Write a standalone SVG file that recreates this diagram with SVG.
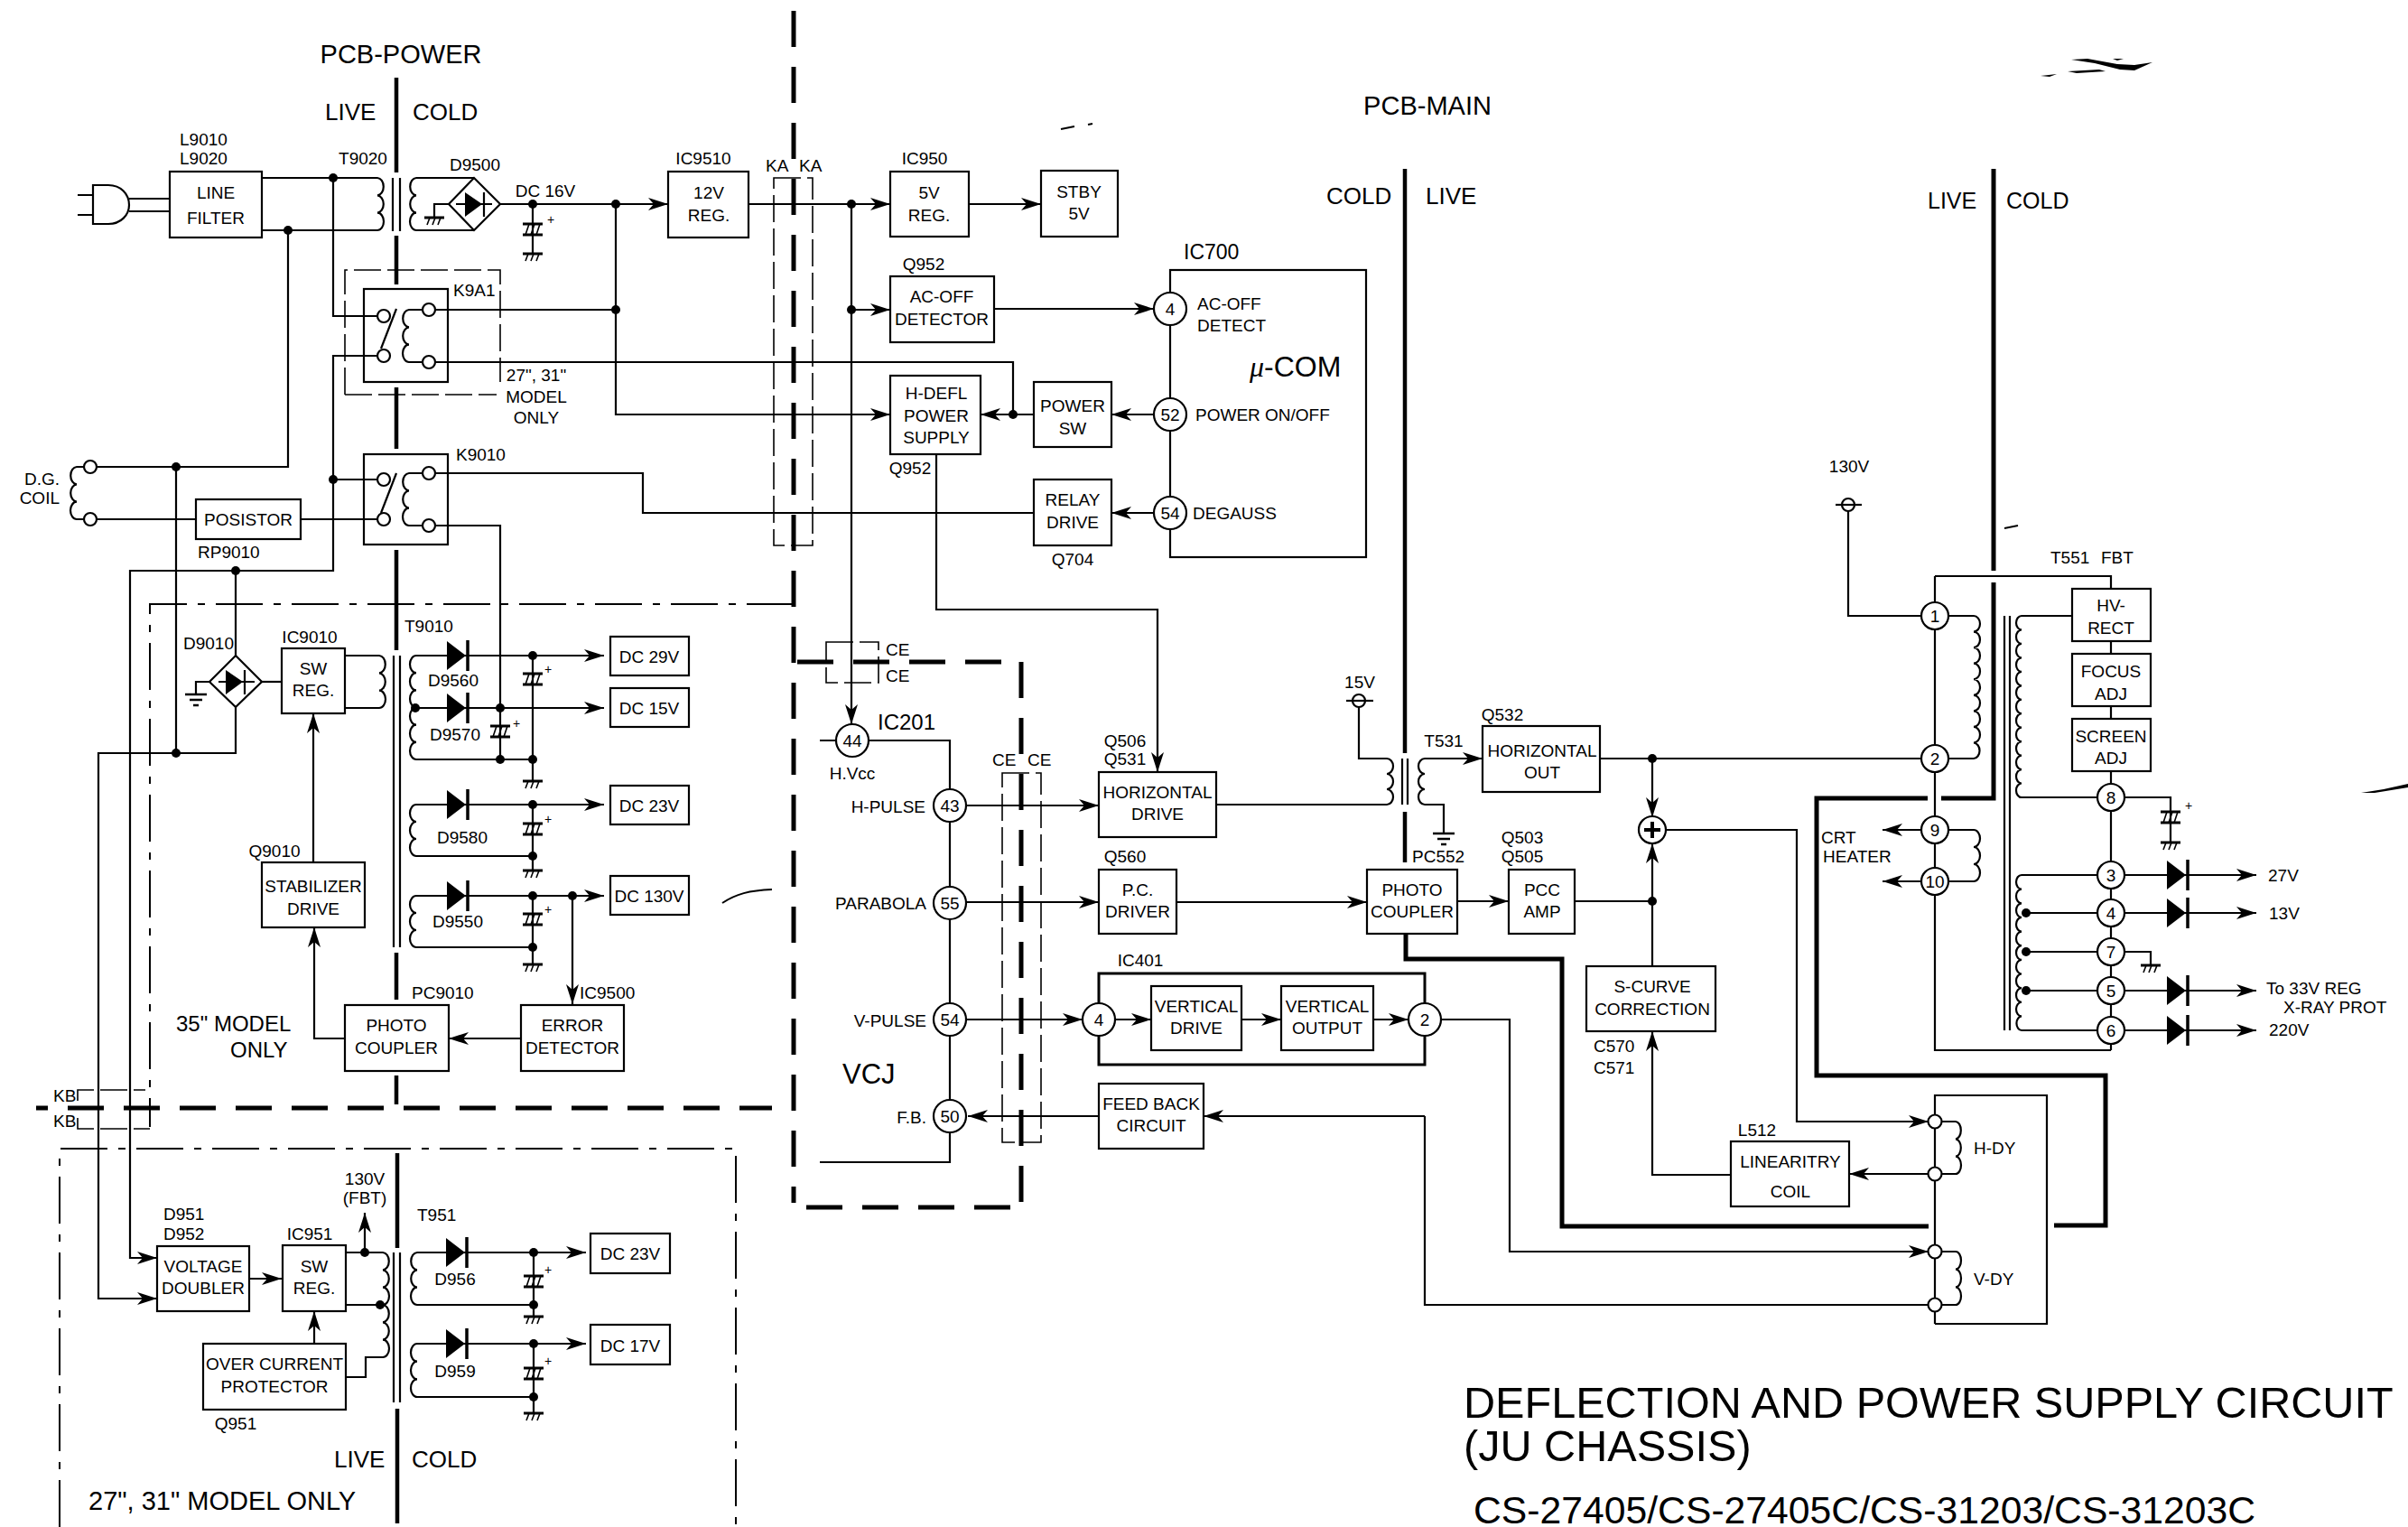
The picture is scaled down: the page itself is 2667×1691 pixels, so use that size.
<svg xmlns="http://www.w3.org/2000/svg" xmlns:xlink="http://www.w3.org/1999/xlink" width="2667" height="1691" viewBox="0 0 2667 1691">
<style>
text{font-family:"Liberation Sans",Arial,sans-serif;font-size:19px;fill:#000}
.c{text-anchor:middle}.e{text-anchor:end}
.f26{font-size:26px}.f29{font-size:29px}.f24{font-size:24px}
.b{fill:#fff;stroke:#000;stroke-width:2.2}
.w{fill:none;stroke:#000;stroke-width:2.2}
.a{marker-end:url(#arr)}
.k{fill:#000}
.p{fill:#fff;stroke:#000;stroke-width:2.2}
.wall{fill:none;stroke:#000;stroke-width:4.5}
.tk{fill:none;stroke:#000;stroke-width:5}
.tkd{fill:none;stroke:#000;stroke-width:5;stroke-dasharray:40 22}
.dd{fill:none;stroke:#000;stroke-width:2;stroke-dasharray:52 12 8 12}
.ld{fill:none;stroke:#000;stroke-width:1.6;stroke-dasharray:30 7}
</style>
<defs>
<marker id="arr" markerUnits="userSpaceOnUse" markerWidth="24" markerHeight="18" refX="22" refY="8" orient="auto" viewBox="0 0 24 16"><path d="M0 1L22 8L0 15L6 8Z" fill="#000"/></marker>
<g id="gnd"><path d="M-11 0H11" fill="none" stroke="#000" stroke-width="3"/><path d="M-5 0L-8 8M1 0L-2 8M7 0L4 8" fill="none" stroke="#000" stroke-width="1.6"/></g>
<g id="cap"><path d="M-11 -6H11M-11 6H11" fill="none" stroke="#000" stroke-width="3"/><path d="M-4 -6L-8 6M2 -6L-2 6M8 -6L4 6" fill="none" stroke="#000" stroke-width="1.6"/></g>
<g id="dio"><path d="M0 -16L21 0L0 16Z" fill="#000"/><path d="M23 -17V17" stroke="#000" stroke-width="3.5" fill="none"/></g>
<g id="earth"><path d="M-12 0H12M-7 6H7M-3 12H3" fill="none" stroke="#000" stroke-width="2.4"/></g>
<g id="dot"><circle r="5" fill="#000"/></g>
</defs>
<rect width="2667" height="1691" fill="#fff"/>

<g id="boundaries">
<path class="wall" d="M439 86V191M439 261V315M439 429V497M439 609V720M439 1055V1107M439 1191V1223M440 1277V1382M440 1560V1687"/>
<path class="wall" d="M1556 187V834M1556 899V955"/>
<path class="tkd" d="M879 12V1332"/>
<path class="tkd" d="M40 1227H855" stroke-dashoffset="27"/>
<path class="tkd" d="M883 733H1110" stroke-dasharray="41 21"/>
<path class="tkd" d="M1131 733V1332"/>
<path class="tkd" d="M893 1337H1119" stroke-dasharray="41 21"/>
<path class="dd" d="M879 669H166V1248"/>
<path class="dd" d="M66 1691V1272H815V1691"/>
<path class="ld" d="M382 437V299H554V423"/>
<path class="ld" d="M382 437H550"/>
<rect class="ld" x="857" y="197" width="43" height="407"/>
<rect class="ld" x="915" y="711" width="58" height="45"/>
<rect class="ld" x="1110" y="856" width="43" height="409"/>
<path class="ld" d="M86 1219V1207H161M86 1238V1250H166"/>
<path class="tk" d="M1557 1034V1062H1730V1358H2136"/>
<path class="tk" d="M2275 1357H2332V1191H2012V884H2135M2150 884H2208V645M2208 632V187"/>
</g>

<g id="connectors">
<path class="w" d="M143 220H188M143 234H188"/>
<path class="w" d="M290 197H418M290 255H418"/>
<path class="w" d="M369 197V350H418"/>
<path class="w a" d="M418 394H369V632H144V1393H174"/>
<path class="w" d="M369 531H418"/>
<path class="w" d="M319 255V517H107"/>
<path class="w" d="M195 517V834"/>
<path class="w" d="M107 575H217M333 575H418"/>
<path class="w" d="M261 632V726"/>
<path class="w a" d="M261 783V834H109V1438H174"/>
<path class="w" d="M497 226H481V240"/>
<path class="w" d="M461 197H525M461 255H525"/>
<path class="w a" d="M554 226H740"/>
<path class="w" d="M590 226V281"/>
<path class="w a" d="M682 226V459H986"/>
<path class="w" d="M482 343H682"/>
<path class="w" d="M482 401H1122V459"/>
<path class="w" d="M482 524H712V568H1145"/>
<path class="w" d="M482 582H554V841"/>
<path class="w a" d="M830 226H986"/>
<path class="w a" d="M1073 226H1153"/>
<path class="w a" d="M943 226V802"/>
<path class="w a" d="M943 343H986"/>
<path class="w a" d="M1101 342H1278"/>
<path class="w a" d="M1278 459H1231"/>
<path class="w a" d="M1145 459H1086"/>
<path class="w a" d="M1278 568H1231"/>
<path class="w a" d="M1037 503V675H1282V855"/>
<path class="w" d="M232 755H217V769"/>
<path class="w" d="M290 755H312"/>
<path class="w" d="M382 726H420M382 784H420"/>
<path class="w a" d="M461 726H669"/>
<path class="w a" d="M460 784H669"/>
<path class="w" d="M461 841H590M590 726V865"/>
<path class="w a" d="M461 891H669"/>
<path class="w" d="M461 948H590M590 891V964"/>
<path class="w a" d="M461 992H669"/>
<path class="w" d="M461 1049H590M590 992V1068"/>
<path class="w a" d="M634 992V1112"/>
<path class="w a" d="M577 1150H497"/>
<path class="w a" d="M382 1150H348V1027"/>
<path class="w a" d="M347 955V790"/>
<path class="w a" d="M276 1416H312"/>
<path class="w a" d="M404 1387V1343"/>
<path class="w" d="M383 1387H424M383 1445H424M383 1525H405V1503H424"/>
<path class="w a" d="M348 1488V1452"/>
<path class="w a" d="M462 1387H649"/>
<path class="w" d="M462 1445H591M591 1387V1458"/>
<path class="w a" d="M462 1488H649"/>
<path class="w" d="M462 1547H591M591 1488V1565"/>
<path class="w" d="M908 820H1052V1287H908"/>
<path class="w a" d="M1070 892H1217"/>
<path class="w a" d="M1070 999H1217"/>
<path class="w a" d="M1070 1129H1199"/>
<path class="w a" d="M1217 1236H1072"/>
<path class="w" d="M1347 891H1536M1536 840H1505V783"/>
<path class="w a" d="M1578 840H1642"/>
<path class="w" d="M1578 891H1599V923"/>
<path class="w a" d="M1303 999H1514"/>
<path class="w a" d="M1614 998H1671"/>
<path class="w" d="M1744 998H1830"/>
<path class="w a" d="M1235 1129H1275"/>
<path class="w a" d="M1375 1129H1419"/>
<path class="w a" d="M1521 1129H1560"/>
<path class="w a" d="M1596 1129H1672V1386H2136"/>
<path class="w a" d="M1578 1236H1333"/>
<path class="w" d="M1578 1236V1445H2136"/>
<path class="w" d="M1772 840H2128"/>
<path class="w a" d="M1830 840V905"/>
<path class="w a" d="M1830 1070V934"/>
<path class="w a" d="M1845 919H1990V1242H2136"/>
<path class="w a" d="M1917 1301H1830V1142"/>
<path class="w a" d="M2136 1300H2048"/>
<path class="w" d="M2047 566V682H2128"/>
<path class="w" d="M2143 638V1163H2338M2143 638H2338V652"/>
<path class="w a" d="M2128 919H2085"/>
<path class="w a" d="M2128 976H2085"/>
<path class="w" d="M2158 682H2186M2158 840H2186M2158 919H2186M2158 976H2186"/>
<path class="w" d="M2295 682H2239M2338 710V724M2338 782V796M2338 854V1163"/>
<path class="w" d="M2239 883H2323M2353 883H2404V933"/>
<path class="w" d="M2239 969H2323M2244 1011H2323M2244 1054H2323M2244 1097H2323M2239 1141H2323"/>
<path class="w" d="M2353 1054H2382V1069"/>
<path class="w a" d="M2353 969H2499"/>
<path class="w a" d="M2353 1011H2499"/>
<path class="w a" d="M2353 1097H2499"/>
<path class="w a" d="M2353 1141H2499"/>
<g id="junctions">
<use xlink:href="#dot" href="#dot" x="369" y="197"/><use href="#dot" x="319" y="255"/><use href="#dot" x="590" y="226"/><use href="#dot" x="682" y="226"/><use href="#dot" x="682" y="343"/><use href="#dot" x="195" y="517"/><use href="#dot" x="369" y="531"/><use href="#dot" x="261" y="632"/><use href="#dot" x="195" y="834"/><use href="#dot" x="943" y="226"/><use href="#dot" x="943" y="343"/><use href="#dot" x="1122" y="459"/>
<use href="#dot" x="590" y="726"/><use href="#dot" x="460" y="784"/><use href="#dot" x="554" y="784"/><use href="#dot" x="554" y="841"/><use href="#dot" x="590" y="841"/><use href="#dot" x="590" y="891"/><use href="#dot" x="590" y="948"/><use href="#dot" x="590" y="992"/><use href="#dot" x="634" y="992"/><use href="#dot" x="590" y="1049"/>
<use href="#dot" x="404" y="1387"/><use href="#dot" x="421" y="1445"/><use href="#dot" x="591" y="1387"/><use href="#dot" x="591" y="1445"/><use href="#dot" x="591" y="1488"/><use href="#dot" x="591" y="1547"/>
<use href="#dot" x="1830" y="840"/><use href="#dot" x="1830" y="998"/><use href="#dot" x="2244" y="1011"/><use href="#dot" x="2244" y="1054"/><use href="#dot" x="2244" y="1097"/>
</g>
</g>

<g id="plug"><path class="b" style="fill:none" d="M103 205H120C134 205 143 215 143 227C143 238 134 248 120 248H103Z"/><path class="w" d="M86 216H103M86 238H103"/></g>
<g id="line-filter"><rect class="b" x="188" y="190" width="102" height="73"/><text class="c" x="239" y="220">LINE</text><text class="c" x="239" y="248">FILTER</text><text x="199" y="161">L9010</text><text x="199" y="182">L9020</text></g>
<g id="t9020"><text class="c" x="402" y="182">T9020</text><path class="w" d="M418 197a7 9.67 0 0 1 0 19.33a7 9.67 0 0 1 0 19.33a7 9.67 0 0 1 0 19.34"/><path class="w" d="M435 197V256M443 197V256"/><path class="w" d="M461 197a7 9.67 0 0 0 0 19.33a7 9.67 0 0 0 0 19.33a7 9.67 0 0 0 0 19.34"/></g>
<g id="d9500"><path class="w" d="M525 197L554 226L525 255L497 226Z"/><path d="M515 213L534 226L515 240Z" class="k"/><path class="w" d="M536 213V240" stroke-width="3"/><path class="w" d="M505 226H545"/><use href="#gnd" x="481" y="241"/><text class="c" x="526" y="189">D9500</text></g>
<g id="c-dc16"><text class="c" x="604" y="218">DC 16V</text><use href="#cap" x="590" y="254"/><use href="#gnd" x="590" y="281"/><text class="c" x="610" y="248" style="font-size:14px">+</text></g>
<g id="ic9510"><rect class="b" x="740" y="190" width="89" height="73"/><text class="c" x="785" y="220">12V</text><text class="c" x="785" y="245">REG.</text><text class="c" x="779" y="182">IC9510</text></g>
<g id="k9a1"><rect class="b" style="fill:none" x="403" y="320" width="93" height="103"/><circle class="p" cx="425" cy="350" r="7"/><circle class="p" cx="425" cy="394" r="7"/><circle class="p" cx="475" cy="343" r="7"/><circle class="p" cx="475" cy="401" r="7"/><path class="w" d="M439 342L422 386M468 343H453a7 9.67 0 0 0 0 19.33a7 9.67 0 0 0 0 19.33a7 9.67 0 0 0 0 19.34H468"/><text x="502" y="328">K9A1</text></g>
<g id="note-27-31"><text class="c" x="594" y="422">27", 31"</text><text class="c" x="594" y="446">MODEL</text><text class="c" x="594" y="469">ONLY</text></g>
<g id="dg-coil"><circle class="p" cx="100" cy="517" r="7"/><circle class="p" cx="100" cy="575" r="7"/><path class="w" d="M93 517H85a7 9.67 0 0 0 0 19.33a7 9.67 0 0 0 0 19.33a7 9.67 0 0 0 0 19.34H93"/><text class="e" x="66" y="537">D.G.</text><text class="e" x="66" y="558">COIL</text></g>
<g id="posistor"><rect class="b" x="217" y="553" width="116" height="44"/><text class="c" x="275" y="582">POSISTOR</text><text x="219" y="618">RP9010</text></g>
<g id="k9010"><rect class="b" style="fill:none" x="403" y="503" width="93" height="100"/><circle class="p" cx="425" cy="531" r="7"/><circle class="p" cx="425" cy="575" r="7"/><circle class="p" cx="475" cy="524" r="7"/><circle class="p" cx="475" cy="582" r="7"/><path class="w" d="M439 524L422 568M468 524H453a7 9.67 0 0 0 0 19.33a7 9.67 0 0 0 0 19.33a7 9.67 0 0 0 0 19.34H468"/><text x="505" y="510">K9010</text></g>

<g id="d9010"><path class="w" d="M261 726L290 755L261 783L232 755Z"/><path class="k" d="M250 742L269 755L250 769Z"/><path class="w" d="M271 742V769M242 755H282"/><use href="#earth" x="217" y="769"/><text class="c" x="231" y="719">D9010</text></g>
<g id="ic9010"><rect class="b" x="312" y="718" width="70" height="72"/><text class="c" x="347" y="747">SW</text><text class="c" x="347" y="771">REG.</text><text class="c" x="343" y="712">IC9010</text></g>
<g id="t9010"><text x="448" y="700">T9010</text><path class="w" d="M420 726a7 9.67 0 0 1 0 19.33a7 9.67 0 0 1 0 19.33a7 9.67 0 0 1 0 19.34"/><path class="w" d="M436 726V1049M443 726V1049"/>
<path class="w" d="M461 726a7 9.58 0 0 0 0 19.17a7 9.58 0 0 0 0 19.17a7 9.58 0 0 0 0 19.16a7 9.58 0 0 0 0 19.17a7 9.58 0 0 0 0 19.17a7 9.58 0 0 0 0 19.16"/>
<path class="w" d="M461 891a7 9.5 0 0 0 0 19a7 9.5 0 0 0 0 19a7 9.5 0 0 0 0 19"/><path class="w" d="M461 992a7 9.5 0 0 0 0 19a7 9.5 0 0 0 0 19a7 9.5 0 0 0 0 19"/></g>
<g id="out-29"><use href="#dio" x="495" y="726"/><text class="c" x="502" y="760">D9560</text><use href="#cap" x="590" y="752"/><text class="c" x="607" y="746" style="font-size:14px">+</text><rect class="b" x="676" y="705" width="87" height="43"/><text class="c" x="719" y="734">DC 29V</text></g>
<g id="out-15"><use href="#dio" x="495" y="784"/><text class="c" x="504" y="820">D9570</text><use href="#cap" x="554" y="810"/><text class="c" x="572" y="806" style="font-size:14px">+</text><use href="#gnd" x="590" y="865"/><rect class="b" x="676" y="762" width="87" height="43"/><text class="c" x="719" y="791">DC 15V</text></g>
<g id="out-23"><use href="#dio" x="495" y="891"/><text class="c" x="512" y="934">D9580</text><use href="#cap" x="590" y="918"/><text class="c" x="607" y="912" style="font-size:14px">+</text><use href="#gnd" x="590" y="964"/><rect class="b" x="676" y="870" width="87" height="43"/><text class="c" x="719" y="899">DC 23V</text></g>
<g id="out-130"><use href="#dio" x="495" y="992"/><text class="c" x="507" y="1027">D9550</text><use href="#cap" x="590" y="1018"/><text class="c" x="607" y="1012" style="font-size:14px">+</text><use href="#gnd" x="590" y="1068"/><rect class="b" x="676" y="970" width="87" height="43"/><text class="c" x="719" y="999">DC 130V</text></g>
<g id="q9010"><rect class="b" x="290" y="955" width="114" height="72"/><text class="c" x="347" y="988">STABILIZER</text><text class="c" x="347" y="1013">DRIVE</text><text class="c" x="304" y="949">Q9010</text></g>
<g id="pc9010"><rect class="b" x="382" y="1113" width="115" height="73"/><text class="c" x="439" y="1142">PHOTO</text><text class="c" x="439" y="1167">COUPLER</text><text x="456" y="1106">PC9010</text></g>
<g id="ic9500"><rect class="b" x="577" y="1113" width="114" height="73"/><text class="c" x="634" y="1142">ERROR</text><text class="c" x="634" y="1167">DETECTOR</text><text x="642" y="1106">IC9500</text></g>
<g id="note-35"><text class="f24" x="195" y="1142">35" MODEL</text><text class="f24" x="255" y="1171">ONLY</text></g>

<g id="d951"><rect class="b" x="174" y="1380" width="102" height="72"/><text class="c" x="225" y="1409">VOLTAGE</text><text class="c" x="225" y="1433">DOUBLER</text><text x="181" y="1351">D951</text><text x="181" y="1373">D952</text></g>
<g id="ic951"><rect class="b" x="313" y="1379" width="70" height="73"/><text class="c" x="348" y="1409">SW</text><text class="c" x="348" y="1433">REG.</text><text class="c" x="343" y="1373">IC951</text><text class="c" x="404" y="1312">130V</text><text class="c" x="404" y="1333">(FBT)</text></g>
<g id="q951"><rect class="b" x="225" y="1488" width="158" height="73"/><text class="c" x="304" y="1517">OVER CURRENT</text><text class="c" x="304" y="1542">PROTECTOR</text><text class="c" x="261" y="1583">Q951</text></g>
<g id="t951"><text x="462" y="1352">T951</text><path class="w" d="M424 1387a7 9.67 0 0 1 0 19.33a7 9.67 0 0 1 0 19.33a7 9.67 0 0 1 0 19.34a7 9.67 0 0 1 0 19.33a7 9.67 0 0 1 0 19.33a7 9.67 0 0 1 0 19.34"/><path class="w" d="M436 1387V1553M443 1387V1553"/><path class="w" d="M462 1387a7 9.67 0 0 0 0 19.33a7 9.67 0 0 0 0 19.33a7 9.67 0 0 0 0 19.34"/><path class="w" d="M462 1488a7 9.83 0 0 0 0 19.67a7 9.83 0 0 0 0 19.67a7 9.83 0 0 0 0 19.66"/></g>
<g id="out-23b"><use href="#dio" x="494" y="1387"/><text class="c" x="504" y="1423">D956</text><use href="#cap" x="591" y="1419"/><text class="c" x="607" y="1411" style="font-size:14px">+</text><use href="#gnd" x="591" y="1458"/><rect class="b" x="654" y="1366" width="88" height="44"/><text class="c" x="698" y="1395">DC 23V</text></g>
<g id="out-17"><use href="#dio" x="494" y="1488"/><text class="c" x="504" y="1525">D959</text><use href="#cap" x="591" y="1521"/><text class="c" x="607" y="1512" style="font-size:14px">+</text><use href="#gnd" x="591" y="1565"/><rect class="b" x="654" y="1467" width="88" height="44"/><text class="c" x="698" y="1497">DC 17V</text></g>

<g id="ic950"><rect class="b" x="986" y="190" width="87" height="72"/><text class="c" x="1029" y="220">5V</text><text class="c" x="1029" y="245">REG.</text><text class="c" x="1024" y="182">IC950</text></g>
<g id="stby"><rect class="b" x="1153" y="189" width="85" height="73"/><text class="c" x="1195" y="219">STBY</text><text class="c" x="1195" y="243">5V</text></g>
<g id="q952a"><rect class="b" x="986" y="306" width="115" height="73"/><text class="c" x="1043" y="335">AC-OFF</text><text class="c" x="1043" y="360">DETECTOR</text><text class="c" x="1023" y="299">Q952</text></g>
<g id="h-defl"><rect class="b" x="986" y="416" width="100" height="87"/><text class="c" x="1037" y="442">H-DEFL</text><text class="c" x="1037" y="467">POWER</text><text class="c" x="1037" y="491">SUPPLY</text><text class="c" x="1008" y="525">Q952</text></g>
<g id="power-sw"><rect class="b" x="1145" y="423" width="86" height="72"/><text class="c" x="1188" y="456">POWER</text><text class="c" x="1188" y="481">SW</text></g>
<g id="q704"><rect class="b" x="1145" y="531" width="86" height="73"/><text class="c" x="1188" y="560">RELAY</text><text class="c" x="1188" y="585">DRIVE</text><text class="c" x="1188" y="626">Q704</text></g>
<g id="ic700"><rect class="b" x="1296" y="299" width="217" height="318"/><circle class="p" cx="1296" cy="342" r="18"/><text class="c" x="1296" y="349">4</text><circle class="p" cx="1296" cy="459" r="18"/><text class="c" x="1296" y="466">52</text><circle class="p" cx="1296" cy="568" r="18"/><text class="c" x="1296" y="575">54</text>
<text x="1326" y="343">AC-OFF</text><text x="1326" y="367">DETECT</text><text x="1324" y="466">POWER ON/OFF</text><text x="1321" y="575">DEGAUSS</text><text x="1311" y="287" style="font-size:23px">IC700</text><text x="1384" y="417" style="font-size:32px"><tspan font-style="italic" font-family="Liberation Serif">μ</tspan>-COM</text></g>

<g id="ic201"><circle class="p" cx="944" cy="820" r="18"/><text class="c" x="944" y="827">44</text><circle class="p" cx="1052" cy="892" r="18"/><text class="c" x="1052" y="899">43</text><circle class="p" cx="1052" cy="1000" r="18"/><text class="c" x="1052" y="1007">55</text><circle class="p" cx="1052" cy="1129" r="18"/><text class="c" x="1052" y="1136">54</text><circle class="p" cx="1052" cy="1236" r="18"/><text class="c" x="1052" y="1243">50</text>
<text class="f24" x="972" y="808">IC201</text><text class="c" x="944" y="863">H.Vcc</text><text class="e" x="1025" y="900">H-PULSE</text><text class="e" x="1026" y="1007">PARABOLA</text><text class="e" x="1026" y="1137">V-PULSE</text><text class="e" x="1026" y="1244">F.B.</text><text x="933" y="1200" style="font-size:31px">VCJ</text></g>
<g id="q506"><rect class="b" x="1217" y="855" width="130" height="72"/><text class="c" x="1282" y="884">HORIZONTAL</text><text class="c" x="1282" y="908">DRIVE</text><text class="c" x="1246" y="827">Q506</text><text class="c" x="1246" y="847">Q531</text></g>
<g id="q560"><rect class="b" x="1217" y="963" width="86" height="71"/><text class="c" x="1260" y="992">P.C.</text><text class="c" x="1260" y="1016">DRIVER</text><text class="c" x="1246" y="955">Q560</text></g>
<g id="ic401"><rect class="b" style="stroke-width:3;fill:none" x="1217" y="1078" width="361" height="101"/><circle class="p" cx="1217" cy="1129" r="18"/><text class="c" x="1217" y="1136">4</text><circle class="p" cx="1578" cy="1129" r="18"/><text class="c" x="1578" y="1136">2</text><text class="c" x="1263" y="1070">IC401</text>
<rect class="b" x="1275" y="1092" width="100" height="71"/><text class="c" x="1325" y="1121">VERTICAL</text><text class="c" x="1325" y="1145">DRIVE</text><rect class="b" x="1419" y="1092" width="102" height="71"/><text class="c" x="1470" y="1121">VERTICAL</text><text class="c" x="1470" y="1145">OUTPUT</text></g>
<g id="feedback"><rect class="b" x="1217" y="1200" width="116" height="72"/><text class="c" x="1275" y="1229">FEED BACK</text><text class="c" x="1275" y="1253">CIRCUIT</text></g>
<g id="t531"><circle class="p" cx="1505" cy="776" r="7"/><path class="w" d="M1491 776H1521"/><text class="c" x="1506" y="762">15V</text><path class="w" d="M1536 840a7 8.5 0 0 1 0 17a7 8.5 0 0 1 0 17a7 8.5 0 0 1 0 17"/><path class="w" d="M1553 840V891M1559 840V891"/><path class="w" d="M1578 840a7 8.5 0 0 0 0 17a7 8.5 0 0 0 0 17a7 8.5 0 0 0 0 17"/><use href="#earth" x="1599" y="923"/><text class="c" x="1599" y="827">T531</text></g>
<g id="pc552"><rect class="b" x="1514" y="963" width="100" height="71"/><text class="c" x="1564" y="992">PHOTO</text><text class="c" x="1564" y="1016">COUPLER</text><text x="1564" y="955">PC552</text></g>
<g id="q532"><rect class="b" x="1642" y="804" width="130" height="73"/><text class="c" x="1708" y="838">HORIZONTAL</text><text class="c" x="1708" y="862">OUT</text><text class="c" x="1664" y="798">Q532</text></g>
<g id="q503"><rect class="b" x="1671" y="963" width="73" height="71"/><text class="c" x="1708" y="992">PCC</text><text class="c" x="1708" y="1016">AMP</text><text class="c" x="1686" y="934">Q503</text><text class="c" x="1686" y="955">Q505</text></g>
<g id="sum"><circle class="p" cx="1830" cy="919" r="15"/><path d="M1821 919H1839M1830 910V928" stroke="#000" stroke-width="4" fill="none"/></g>
<g id="s-curve"><rect class="b" x="1757" y="1070" width="143" height="72"/><text class="c" x="1830" y="1099">S-CURVE</text><text class="c" x="1830" y="1124">CORRECTION</text><text x="1765" y="1165">C570</text><text x="1765" y="1189">C571</text></g>
<g id="l512"><rect class="b" x="1917" y="1264" width="131" height="72"/><text class="c" x="1983" y="1293">LINEARITRY</text><text class="c" x="1983" y="1326">COIL</text><text class="c" x="1946" y="1258">L512</text></g>
<g id="dy"><path class="w" d="M2143 1466V1213H2267V1466H2143"/><circle class="p" cx="2143" cy="1242" r="7.5"/><circle class="p" cx="2143" cy="1300" r="7.5"/><circle class="p" cx="2143" cy="1386" r="7.5"/><circle class="p" cx="2143" cy="1445" r="7.5"/><path class="w" d="M2150 1242H2166a6 9.67 0 0 1 0 19.33a6 9.67 0 0 1 0 19.33a6 9.67 0 0 1 0 19.34H2150"/><path class="w" d="M2150 1386H2166a6 9.83 0 0 1 0 19.67a6 9.83 0 0 1 0 19.67a6 9.83 0 0 1 0 19.66H2150"/><text x="2186" y="1278">H-DY</text><text x="2186" y="1423">V-DY</text></g>
<g id="t551"><circle class="p" cx="2047" cy="559" r="7"/><path class="w" d="M2033 559H2062"/><text class="c" x="2048" y="523">130V</text>
<circle class="p" cx="2143" cy="682" r="15"/><text class="c" x="2143" y="689">1</text><circle class="p" cx="2143" cy="840" r="15"/><text class="c" x="2143" y="847">2</text><circle class="p" cx="2143" cy="919" r="15"/><text class="c" x="2143" y="926">9</text><circle class="p" cx="2143" cy="976" r="15"/><text class="c" x="2143" y="983">10</text>
<path class="w" d="M2186 682a7 8.78 0 0 1 0 17.56a7 8.78 0 0 1 0 17.56a7 8.78 0 0 1 0 17.56a7 8.78 0 0 1 0 17.56a7 8.78 0 0 1 0 17.56a7 8.78 0 0 1 0 17.56a7 8.78 0 0 1 0 17.56a7 8.78 0 0 1 0 17.56a7 8.78 0 0 1 0 17.52"/><path class="w" d="M2186 919a7 9.5 0 0 1 0 19a7 9.5 0 0 1 0 19a7 9.5 0 0 1 0 19"/>
<text x="2017" y="934">CRT</text><text x="2019" y="955">HEATER</text><path class="w" d="M2220 682V1141M2226 682V1141"/><text x="2271" y="624">T551</text><text x="2327" y="624">FBT</text>
<path class="w" d="M2239 682a6 7.73 0 0 0 0 15.46a6 7.73 0 0 0 0 15.46a6 7.73 0 0 0 0 15.46a6 7.73 0 0 0 0 15.46a6 7.73 0 0 0 0 15.46a6 7.73 0 0 0 0 15.46a6 7.73 0 0 0 0 15.46a6 7.73 0 0 0 0 15.46a6 7.73 0 0 0 0 15.46a6 7.73 0 0 0 0 15.46a6 7.73 0 0 0 0 15.46a6 7.73 0 0 0 0 15.46a6 7.73 0 0 0 0 15.48"/>
<path class="w" d="M2239 969a6 7.82 0 0 0 0 15.64a6 7.82 0 0 0 0 15.64a6 7.82 0 0 0 0 15.64a6 7.82 0 0 0 0 15.64a6 7.82 0 0 0 0 15.64a6 7.82 0 0 0 0 15.64a6 7.82 0 0 0 0 15.64a6 7.82 0 0 0 0 15.64a6 7.82 0 0 0 0 15.64a6 7.82 0 0 0 0 15.64a6 7.82 0 0 0 0 15.6"/>
<rect class="b" x="2295" y="652" width="87" height="58"/><text class="c" x="2338" y="677">HV-</text><text class="c" x="2338" y="702">RECT</text>
<rect class="b" x="2295" y="724" width="87" height="58"/><text class="c" x="2338" y="750">FOCUS</text><text class="c" x="2338" y="775">ADJ</text>
<rect class="b" x="2295" y="796" width="87" height="58"/><text class="c" x="2338" y="822">SCREEN</text><text class="c" x="2338" y="846">ADJ</text>
<circle class="p" cx="2338" cy="883" r="15"/><text class="c" x="2338" y="890">8</text><circle class="p" cx="2338" cy="969" r="15"/><text class="c" x="2338" y="976">3</text><circle class="p" cx="2338" cy="1011" r="15"/><text class="c" x="2338" y="1018">4</text><circle class="p" cx="2338" cy="1054" r="15"/><text class="c" x="2338" y="1061">7</text><circle class="p" cx="2338" cy="1097" r="15"/><text class="c" x="2338" y="1104">5</text><circle class="p" cx="2338" cy="1141" r="15"/><text class="c" x="2338" y="1148">6</text>
<use href="#cap" x="2404" y="905"/><text class="c" x="2424" y="897" style="font-size:14px">+</text><use href="#gnd" x="2404" y="933"/><use href="#gnd" x="2382" y="1069"/>
<use href="#dio" x="2400" y="969"/><use href="#dio" x="2400" y="1011"/><use href="#dio" x="2400" y="1097"/><use href="#dio" x="2400" y="1141"/>
<text x="2512" y="976">27V</text><text x="2513" y="1018">13V</text><text x="2510" y="1101">To 33V REG</text><text x="2529" y="1122">X-RAY PROT</text><text x="2513" y="1147">220V</text></g>

<g id="labels">
<text class="c f29" x="444" y="70">PCB-POWER</text>
<text class="f26" x="360" y="133">LIVE</text><text class="f26" x="457" y="133">COLD</text>
<text class="f26" x="370" y="1625">LIVE</text><text class="f26" x="456" y="1625">COLD</text>
<text class="f29" x="98" y="1672">27", 31" MODEL ONLY</text>
<text x="848" y="190">KA</text><text x="885" y="190">KA</text>
<text x="59" y="1220">KB</text><text x="59" y="1248">KB</text>
<text x="981" y="726">CE</text><text x="981" y="755">CE</text><text x="1099" y="848">CE</text><text x="1138" y="848">CE</text>
<text class="c f29" x="1581" y="127">PCB-MAIN</text>
<text class="f26" x="1469" y="226">COLD</text><text class="f26" x="1579" y="226">LIVE</text>
<text class="f26" x="2135" y="231" style="font-size:25px">LIVE</text><text class="f26" x="2222" y="231" style="font-size:25px">COLD</text>
<text x="1621" y="1570" style="font-size:48.6px">DEFLECTION AND POWER SUPPLY CIRCUIT</text>
<text x="1621" y="1618" style="font-size:48.6px">(JU CHASSIS)</text>
<text x="1632" y="1687" style="font-size:42.7px">CS-27405/CS-27405C/CS-31203/CS-31203C</text>
</g>

<g id="scan-marks">
<path class="k" d="M2294 66L2312 65L2345 71L2364 72L2384 69L2364 78L2348 77L2320 70ZM2290 79L2325 77L2332 79L2300 81ZM2260 84L2278 82L2270 85ZM2340 65L2352 65L2345 67Z"/>
<path class="k" d="M2615 878L2640 874L2667 868V872L2630 878Z"/>
<path d="M800 1000C815 990 830 986 855 985" fill="none" stroke="#000" stroke-width="2"/>
<path d="M1175 143L1190 140M1205 138L1210 137" fill="none" stroke="#000" stroke-width="2"/>
<path d="M2220 585L2235 582" fill="none" stroke="#000" stroke-width="2"/>
</g>
</svg>
